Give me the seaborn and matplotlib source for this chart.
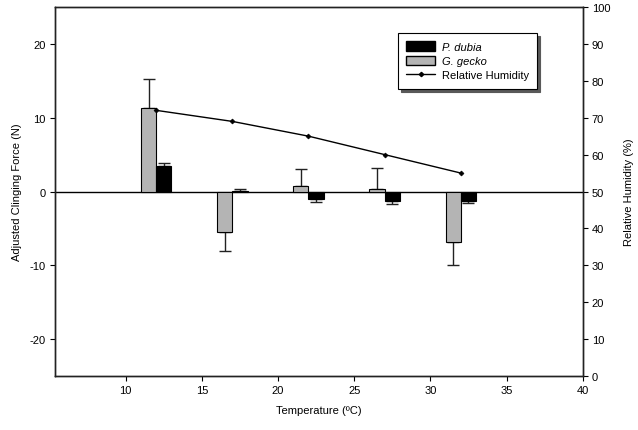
import numpy as np
import seaborn as sns
import matplotlib.pyplot as plt
from matplotlib.patches import Patch
from matplotlib.lines import Line2D

# Data
temps = [12, 17, 22, 27, 32]
gecko = [11.3, -5.5, 0.7, 0.3, -6.85]
gecko_err = [15.3, -8.0, 3.0, 3.15, -10.0]
dubia = [3.5, 0.12, -1.0, -1.35, -1.35]
dubia_err = [3.9, 0.4, -1.4, -1.7, -1.5]
humidity = [72, 69, 65, 60, 55]

sns.set_style("ticks")
plt.rcParams['font.family'] = ['Liberation Sans', 'DejaVu Sans']
plt.rcParams['font.size'] = 8
plt.rcParams['axes.unicode_minus'] = False
plt.rcParams['text.color'] = 'black'
plt.rcParams['axes.labelcolor'] = 'black'
plt.rcParams['xtick.color'] = 'black'
plt.rcParams['ytick.color'] = 'black'


def one_sided(vals, errs):
    vals = np.array(vals)
    errs = np.array(errs)
    up = np.where(vals >= 0, errs - vals, 0)
    lo = np.where(vals < 0, vals - errs, 0)
    return [lo, up]


fig = plt.figure(figsize=(6.38, 4.31), dpi=100)
ax = fig.add_axes([0.0862, 0.1253, 0.8271, 0.8561])

t = np.array(temps)
ax.axhline(0, color='black', lw=1, zorder=1)
ax.bar(t - 0.5, gecko, width=1.0, color='#b4b4b4', edgecolor='black', lw=0.8, zorder=2)
ax.bar(t + 0.5, dubia, width=1.0, color='black', edgecolor='black', lw=0.8, zorder=2)
ax.errorbar(t - 0.5, gecko, yerr=one_sided(gecko, gecko_err), fmt='none',
            ecolor='#222222', elinewidth=1, capsize=4, capthick=1, zorder=1.5)
ax.errorbar(t + 0.5, dubia, yerr=one_sided(dubia, dubia_err), fmt='none',
            ecolor='#222222', elinewidth=1, capsize=4, capthick=1, zorder=1.5)

ax.set_xlim(5.36, 40)
ax.set_ylim(-25, 25)
ax.set_xticks([10, 15, 20, 25, 30, 35, 40])
ax.set_yticks([-20, -10, 0, 10, 20])
ax.set_xlabel('Temperature (ºC)', labelpad=7)
ax.set_ylabel('Adjusted Clinging Force (N)', labelpad=6)
ax.tick_params(direction='out', length=3.5, width=0.8, labelsize=8, pad=3)
for s in ax.spines.values():
    s.set_linewidth(1)
    s.set_color('#222222')

ax2 = ax.twinx()
sns.lineplot(x=temps, y=humidity, ax=ax2, color='black', lw=1,
             marker='D', markersize=2.5, markeredgecolor='black', markeredgewidth=0.5)
ax2.set_ylim(0, 100)
ax2.set_yticks(range(0, 101, 10))
ax2.set_ylabel('Relative Humidity (%)', labelpad=10)
ax2.tick_params(direction='out', length=3.5, width=0.8, labelsize=8, pad=3)
for s in ax2.spines.values():
    s.set_linewidth(1)
    s.set_color('#222222')

handles = [
    Patch(facecolor='black', edgecolor='black'),
    Patch(facecolor='#b4b4b4', edgecolor='black'),
    Line2D([0], [0], color='black', lw=1, marker='D', markersize=2.2),
]
labels = ['P. dubia', 'G. gecko', 'Relative Humidity']
leg = ax2.legend(handles, labels, loc='upper left', bbox_to_anchor=(0.624, 0.921),
                 bbox_transform=fig.transFigure, borderaxespad=0, frameon=True,
                 fancybox=False, shadow={'color': '0.35', 'alpha': 1},
                 edgecolor='black', framealpha=1,
                 fontsize=8, handlelength=2.6, handleheight=0.9, labelspacing=0.35,
                 borderpad=0.75, handletextpad=0.6)
leg.get_frame().set_linewidth(0.8)
for txt in leg.get_texts()[:2]:
    txt.set_style('italic')

fig.savefig('out.png', dpi=100)
